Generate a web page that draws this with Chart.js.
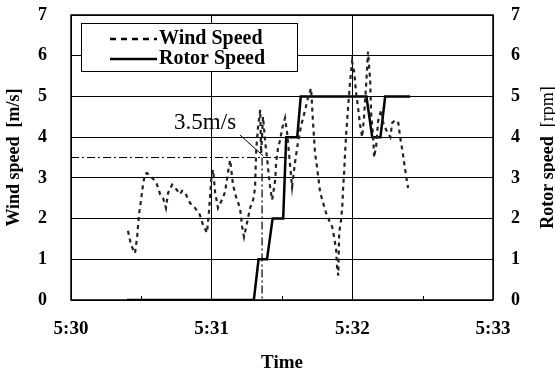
<!DOCTYPE html>
<html>
<head>
<meta charset="utf-8">
<script src="https://cdn.jsdelivr.net/npm/chart.js@4.4.1/dist/chart.umd.min.js"></script>
<style>
  html, body { margin: 0; padding: 0; background: #fff; }
</style>
</head>
<body>
<canvas id="c" width="555" height="374"></canvas>
<script>
// ==========================
// DATA (time = seconds after 5:30:00)
// ==========================
const windTimes = [24.3, 25.6, 27.3, 28.2, 29, 29.9, 30.7, 31.6, 32.4, 34.6, 36.3, 38, 39.3, 40.5, 41.4, 43.1,
  45.2, 46.5, 47.4, 48.7, 50.8, 52.9, 55, 56.3, 58, 58.9, 59.8, 60.6, 61.5, 62.7, 64.4, 65.7, 67, 67.9,
  69.1, 70.4, 72.1, 73, 73.8, 75.1, 76.4, 77.7, 78.5, 79, 79.8, 80.7, 81.1, 81.9, 82.8, 83.7, 84.9, 85.8,
  87.1, 87.5, 88.3, 89.2, 90.1, 91.3, 92.2, 93, 94.3, 95.6, 96.9, 98.2, 99, 99.9, 101.2, 102.4, 103.3,
  104.1, 105, 106.3, 107.6, 108.8, 110.5, 111.4, 112.2, 113.1, 113.5, 114, 114.4, 115.2, 115.7, 116.1,
  116.5, 116.9, 117.4, 117.8, 118.2, 119.1, 119.9, 120.8, 121.6, 122.5, 123.3, 124.2, 125, 125.9, 126.7,
  127.6, 128, 128.9, 129.3, 130.2, 131, 132.3, 133.2, 134.4, 136.2, 137, 138.3, 139.6, 140.4, 141.3,
  142.1, 143, 143.8];
const windSpeed = [1.7, 1.35, 1.15, 1.55, 2.1, 2.46, 2.83, 3.1, 3.12, 3.0, 2.9, 2.6, 2.5, 2.26, 2.63, 2.83,
  2.7, 2.6, 2.68, 2.63, 2.38, 2.26, 2.09, 1.84, 1.65, 2.2, 2.95, 3.2, 2.63, 2.26, 2.46, 2.65, 3.15, 3.44,
  2.83, 2.53, 2.26, 1.8, 1.55, 1.9, 2.26, 2.46, 2.75, 3.7, 4.25, 4.67, 3.6, 4.5, 3.9, 3.44, 2.78, 2.46,
  2.95, 3.37, 3.73, 3.93, 4.22, 4.47, 4.1, 3.6, 2.78, 3.4, 3.9, 4.3, 4.47, 4.67, 5.0, 5.2, 4.3,
  3.6, 3.24, 2.63, 2.38, 2.14, 1.9, 1.8, 1.55, 1.23, 0.8, 0.6, 1.65, 1.97, 2.28, 2.78,
  3.12, 3.6, 4.1, 4.42, 4.74, 5.4, 5.85, 5.6, 5.1, 4.7, 4.3, 4.0, 4.5, 5.3, 6.1,
  5.4, 4.6, 4.0, 3.5, 3.8, 4.4, 4.67, 4.35, 4.18, 4.0, 4.35, 4.42, 4.35, 4.0, 3.69,
  3.37, 3.02, 2.75];

const rotorTimes = [23.9, 78, 80, 83.6, 86, 90.5, 91.8, 96.5, 98, 126, 128.5, 132, 134, 144.7];
const rotorSpeed = [0, 0, 1, 1, 2, 2, 4, 4, 5, 5, 4, 4, 5, 5];

// cut-in marker: 3.5 m/s line and the moment it is crossed
const cutInSpeed = 3.5;
const cutInLineTimes = [0, 93];
const cutInTime = 81.5;
const cutInLabel = "3.5m/s";
const cutInLabelAt = [57.2, 4.35];
const leaderTimes = [72.1, 82];
const leaderValues = [4.05, 3.54];

const xTickLabels = ["5:30", "5:31", "5:32", "5:33"];
const minorTickTimes = [30, 90, 150];
const legendLabels = ["Wind Speed", "Rotor Speed"];

const SERIF = "'Liberation Serif', 'DejaVu Serif', serif";

// ==========================
// HELPERS
// ==========================
const toPoints = (xs, ys) => xs.map((x, i) => ({ x: x, y: ys[i] }));

// no extra top/bottom room for the y tick labels
const fixY = w => s => { s.width = w; s.paddingTop = 0; s.paddingBottom = 0; };

const extras = {
  id: "extras",
  afterDraw(chart) {
    const { ctx, chartArea: a, scales } = chart;
    const x = scales.x, y = scales.y;
    ctx.save();

    // frame
    ctx.strokeStyle = "#000";
    ctx.lineWidth = 1.5;
    ctx.strokeRect(a.left, a.top, a.right - a.left, a.bottom - a.top);

    // minor ticks inside bottom
    ctx.lineWidth = 1;
    minorTickTimes.forEach(t => {
      const px = Math.round(x.getPixelForValue(t)) + 0.5;
      ctx.beginPath();
      ctx.moveTo(px, a.bottom);
      ctx.lineTo(px, a.bottom - 4);
      ctx.stroke();
    });

    // annotation text
    ctx.fillStyle = "#000";
    ctx.font = "23px " + SERIF;
    ctx.textAlign = "center";
    ctx.textBaseline = "middle";
    ctx.fillText(cutInLabel, x.getPixelForValue(cutInLabelAt[0]), y.getPixelForValue(cutInLabelAt[1]));

    // right axis title (reads bottom to top)
    ctx.translate(548, (a.top + a.bottom) / 2);
    ctx.rotate(-Math.PI / 2);
    ctx.font = "bold 18px " + SERIF;
    const p1 = "Rotor speed  ";
    ctx.textAlign = "left";
    const w1 = ctx.measureText(p1).width;
    ctx.font = "18px " + SERIF;
    const p2 = "[rpm]";
    const w2 = ctx.measureText(p2).width;
    ctx.font = "bold 18px " + SERIF;
    ctx.fillText(p1, -(w1 + w2) / 2, 0);
    ctx.font = "18px " + SERIF;
    ctx.fillText(p2, -(w1 + w2) / 2 + w1, 0);
    ctx.restore();

    // legend box
    ctx.save();
    ctx.fillStyle = "#fff";
    ctx.fillRect(81, 23, 216, 48);
    ctx.strokeStyle = "#000";
    ctx.lineWidth = 1;
    ctx.strokeRect(81.5, 23.5, 216, 48);
    ctx.lineWidth = 2.5;
    ctx.setLineDash([6, 5]);
    ctx.beginPath(); ctx.moveTo(110, 39); ctx.lineTo(157, 39); ctx.stroke();
    ctx.setLineDash([]);
    ctx.beginPath(); ctx.moveTo(110, 59); ctx.lineTo(157, 59); ctx.stroke();
    ctx.fillStyle = "#000";
    ctx.font = "bold 20px " + SERIF;
    ctx.textAlign = "left";
    ctx.textBaseline = "middle";
    ctx.fillText(legendLabels[0], 159, 39);
    ctx.fillText(legendLabels[1], 159, 59);
    ctx.restore();
  }
};

// ==========================
// CHART
// ==========================
const tickFont = { family: SERIF, size: 18, weight: "bold" };

new Chart(document.getElementById("c"), {
  type: "line",
  data: {
    datasets: [
      {
        label: legendLabels[0],
        data: toPoints(windTimes, windSpeed),
        borderColor: "#222",
        borderWidth: 2.2,
        borderDash: [4, 4],
        pointRadius: 0,
        tension: 0,
        yAxisID: "y"
      },
      {
        label: legendLabels[1],
        data: toPoints(rotorTimes, rotorSpeed),
        borderColor: "#000",
        borderWidth: 2.5,
        pointRadius: 0,
        tension: 0,
        yAxisID: "y2"
      },
      {
        label: "cut-in",
        data: toPoints(cutInLineTimes, [cutInSpeed, cutInSpeed]),
        borderColor: "#000",
        borderWidth: 1.2,
        borderDash: [8, 3, 2, 3],
        pointRadius: 0,
        yAxisID: "y"
      },
      {
        label: "cut-in drop",
        data: toPoints([cutInTime, cutInTime], [cutInSpeed, 0]),
        borderColor: "#000",
        borderWidth: 1.2,
        borderDash: [8, 3, 2, 3],
        pointRadius: 0,
        yAxisID: "y"
      },
      {
        label: "leader",
        data: toPoints(leaderTimes, leaderValues),
        borderColor: "#000",
        borderWidth: 1,
        pointRadius: 0,
        yAxisID: "y"
      }
    ]
  },
  options: {
    responsive: false,
    animation: false,
    devicePixelRatio: 1,
    layout: { padding: { top: 15, left: 0, right: 0, bottom: 0 } },
    plugins: { legend: { display: false }, tooltip: { enabled: false } },
    scales: {
      x: {
        type: "linear",
        min: 0, max: 180,
        ticks: {
          stepSize: 60, autoSkip: false, maxRotation: 0, padding: 18,
          color: "#000", font: { family: SERIF, size: 19, weight: "bold" },
          callback: v => xTickLabels[Math.round(v / 60)]
        },
        grid: { color: "#000", lineWidth: 1, drawTicks: false },
        border: { display: false },
        title: {
          display: true, text: "Time", color: "#000",
          font: { family: SERIF, size: 19, weight: "bold" },
          padding: { top: 6, bottom: 0 }
        },
        afterFit: s => { s.height = 74; }
      },
      y: {
        position: "left",
        min: 0, max: 7,
        ticks: { stepSize: 1, padding: 24, color: "#000", font: tickFont },
        grid: { color: "#000", lineWidth: 1, drawTicks: false },
        border: { display: false },
        title: {
          display: true, text: "Wind speed  [m/s]", color: "#000",
          font: { family: SERIF, size: 18, weight: "bold" },
          padding: { top: 4, bottom: 0 }
        },
        afterFit: fixY(71)
      },
      y2: {
        position: "right",
        min: 0, max: 7,
        ticks: { stepSize: 1, padding: 18, color: "#000", font: tickFont },
        grid: { display: false, drawTicks: false },
        border: { display: false },
        afterFit: fixY(62)
      }
    }
  },
  plugins: [extras]
});
</script>
</body>
</html>
